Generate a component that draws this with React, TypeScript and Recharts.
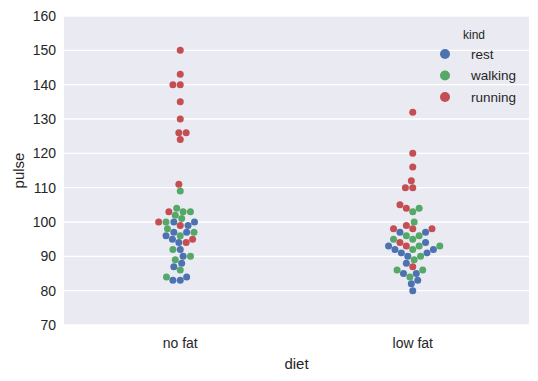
import React from 'react';
import { ScatterChart, Scatter, XAxis, YAxis, CartesianGrid, Legend } from 'recharts';

// ---- data ----
const categories = ['no fat', 'low fat'];
const kinds = ['rest', 'walking', 'running'];
const yTicks = [70, 80, 90, 100, 110, 120, 130, 140, 150, 160];

const noFatRest = [83, 83, 84, 87, 88, 90, 92, 94, 95, 97, 99, 96, 100, 97, 100];
const noFatWalking = [84, 86, 89, 103, 109, 90, 92, 96, 101, 97, 98, 100, 102, 104, 103];
const noFatRunning = [95, 126, 143, 100, 126, 140, 103, 124, 140, 94, 135, 130, 99, 111, 150];
const lowFatRest = [85, 85, 88, 90, 92, 93, 97, 97, 94, 80, 82, 83, 91, 92, 91];
const lowFatWalking = [86, 86, 84, 93, 103, 104, 90, 92, 93, 95, 96, 100, 89, 96, 95];
const lowFatRunning = [93, 98, 110, 98, 104, 112, 98, 105, 99, 87, 132, 120, 94, 110, 116];

const groups = [
  [noFatRest, noFatWalking, noFatRunning],
  [lowFatRest, lowFatWalking, lowFatRunning],
];

// ---- style / layout ----
const colors = ['#4C72B0', '#55A868', '#C44E52'];
const W = 538;
const H = 381;
const M = { top: 16, right: 9, bottom: 0, left: 0 };
const Y_AXIS_W = 64;
const X_AXIS_H = 56;
const plotW = W - M.left - M.right - Y_AXIS_W;
const plotH = H - M.top - M.bottom - X_AXIS_H;
const plotLeft = M.left + Y_AXIS_W;
const plotBottomFromBase = H - (M.top + plotH);
const Y_MIN = 70;
const Y_MAX = 160;
const pxPerX = plotW / 2;
const D = 7; // marker diameter in px
const TEXT = '#262626';

// numpy-style (classic) argsort, to reproduce the swarm's tie ordering
function npArgsort(v: number[]): number[] {
  const n = v.length;
  const t = Array.from({ length: n }, (_, i) => i);
  if (n <= 1) return t;
  const swap = (a: number, b: number) => {
    const tmp = t[a];
    t[a] = t[b];
    t[b] = tmp;
  };
  let pl = 0;
  let pr = n - 1;
  const stack: number[] = [];
  for (;;) {
    while (pr - pl > 16) {
      const pm = pl + ((pr - pl) >> 1);
      if (v[t[pm]] < v[t[pl]]) swap(pm, pl);
      if (v[t[pr]] < v[t[pm]]) swap(pr, pm);
      if (v[t[pm]] < v[t[pl]]) swap(pm, pl);
      const vp = v[t[pm]];
      let pi = pl;
      let pj = pr - 1;
      swap(pm, pj);
      for (;;) {
        do ++pi; while (v[t[pi]] < vp);
        do --pj; while (vp < v[t[pj]]);
        if (pi >= pj) break;
        swap(pi, pj);
      }
      swap(pi, pr - 1);
      if (pi - pl < pr - pi) {
        stack.push(pi + 1, pr);
        pr = pi - 1;
      } else {
        stack.push(pl, pi - 1);
        pl = pi + 1;
      }
    }
    for (let pi = pl + 1; pi <= pr; ++pi) {
      const vi = t[pi];
      const vp = v[vi];
      let pj = pi;
      let pk = pi - 1;
      while (pj > pl && vp < v[t[pk]]) {
        t[pj--] = t[pk--];
      }
      t[pj] = vi;
    }
    if (stack.length === 0) break;
    pr = stack.pop() as number;
    pl = stack.pop() as number;
  }
  return t;
}

// beeswarm layout in absolute display pixels; returns x offsets (px) from the midline
function beeswarm(values: number[], midline: number): number[] {
  const ys = values.map((v) => plotBottomFromBase + ((v - Y_MIN) / (Y_MAX - Y_MIN)) * plotH);
  const order = npArgsort(ys);
  const sx: number[] = [];
  const sy: number[] = [];
  const out = new Array(values.length).fill(0);
  order.forEach((idx, k) => {
    const yi = ys[idx];
    if (k === 0) {
      sx.push(midline);
      sy.push(yi);
      out[idx] = 0;
      return;
    }
    const nb: number[] = [];
    for (let j = sx.length - 1; j >= 0; j--) {
      if (yi - sy[j] < D) nb.push(j);
      else break;
    }
    nb.reverse();
    const cand: number[] = [midline];
    let leftFirst = true;
    nb.forEach((j) => {
      const dy = yi - sy[j];
      const dx = Math.sqrt(D * D - dy * dy) * 1.05;
      const cl = sx[j] - dx;
      const cr = sx[j] + dx;
      if (leftFirst) cand.push(cl, cr);
      else cand.push(cr, cl);
      leftFirst = !leftFirst;
    });
    let chosen = midline;
    if (nb.length > 0) {
      const ord = npArgsort(cand.map((c) => Math.abs(c - midline)));
      for (const ci of ord) {
        const xc = cand[ci];
        const ok = nb.every((j) => {
          const ddx = sx[j] - xc;
          const ddy = sy[j] - yi;
          return ddx * ddx + ddy * ddy >= D * D;
        });
        if (ok) {
          chosen = xc;
          break;
        }
      }
    }
    sx.push(chosen);
    sy.push(yi);
    out[idx] = chosen - midline;
  });
  return out;
}

type Pt = { x: number; y: number };
const series: Pt[][] = kinds.map(() => []);
groups.forEach((g, ci) => {
  const vals: number[] = [];
  const kindIdx: number[] = [];
  g.forEach((arr, ki) => {
    arr.forEach((v) => {
      vals.push(v);
      kindIdx.push(ki);
    });
  });
  const midline = plotLeft + (ci + 0.5) * pxPerX;
  const offs = beeswarm(vals, midline);
  vals.forEach((v, i) => {
    series[kindIdx[i]].push({ x: ci + offs[i] / pxPerX, y: v });
  });
});

const makeShape = (color: string) => (props: any) => (
  <circle cx={props.cx} cy={props.cy} r={D / 2} fill={color} />
);

const LegendBox = () => (
  <svg width={110} height={100} style={{ display: 'block' }}>
    <text x={54} y={15} textAnchor="middle" dominantBaseline="central" fontSize={12} fill={TEXT}>
      kind
    </text>
    {kinds.map((k, i) => (
      <g key={k}>
        <circle cx={25} cy={34 + i * 21.5} r={5} fill={colors[i]} />
        <text x={51} y={34 + i * 21.5} dominantBaseline="central" fontSize={13.5} fill={TEXT}>
          {k}
        </text>
      </g>
    ))}
  </svg>
);

export default function App() {
  return (
    <div style={{ position: 'absolute', left: 0, top: 0, width: W, height: H, background: '#fff', fontFamily: '"Liberation Sans", Arial, sans-serif' }}>
      <ScatterChart width={W} height={H} margin={M}>
        <CartesianGrid vertical={false} stroke="#ffffff" strokeWidth={1.3} fill="#EAEAF2" />
        <XAxis
          type="number"
          dataKey="x"
          domain={[-0.5, 1.5]}
          ticks={[0, 1]}
          tickFormatter={(v: number) => categories[v] ?? ''}
          height={X_AXIS_H}
          tickLine={false}
          axisLine={false}
          tickSize={0}
          tickMargin={13}
          allowDataOverflow
          tick={{ fontSize: 14, fill: TEXT }}
          label={{
            content: (p: any) => (
              <text
                x={p.viewBox.x + p.viewBox.width / 2}
                y={p.viewBox.y + 38}
                textAnchor="middle"
                dominantBaseline="central"
                fontSize={15}
                fill={TEXT}
              >
                diet
              </text>
            ),
          }}
        />
        <YAxis
          type="number"
          dataKey="y"
          domain={[Y_MIN, Y_MAX]}
          ticks={yTicks}
          width={Y_AXIS_W}
          tickLine={false}
          axisLine={false}
          tickSize={0}
          tickMargin={8}
          allowDataOverflow
          tick={{ fontSize: 14, fill: TEXT }}
          label={{
            content: (p: any) => {
              const cx = p.viewBox.x + 18;
              const cy = p.viewBox.y + p.viewBox.height / 2;
              return (
                <text
                  x={cx}
                  y={cy}
                  transform={`rotate(-90 ${cx} ${cy})`}
                  textAnchor="middle"
                  dominantBaseline="central"
                  fontSize={15}
                  fill={TEXT}
                >
                  pulse
                </text>
              );
            },
          }}
        />
        <Legend
          layout="vertical"
          align="center"
          verticalAlign="middle"
          wrapperStyle={{ top: 20, left: 420, width: 110 }}
          content={() => <LegendBox />}
        />
        {kinds.map((k, i) => (
          <Scatter
            key={k}
            name={k}
            data={series[i]}
            fill={colors[i]}
            shape={makeShape(colors[i])}
            isAnimationActive={false}
          />
        ))}
      </ScatterChart>
    </div>
  );
}
